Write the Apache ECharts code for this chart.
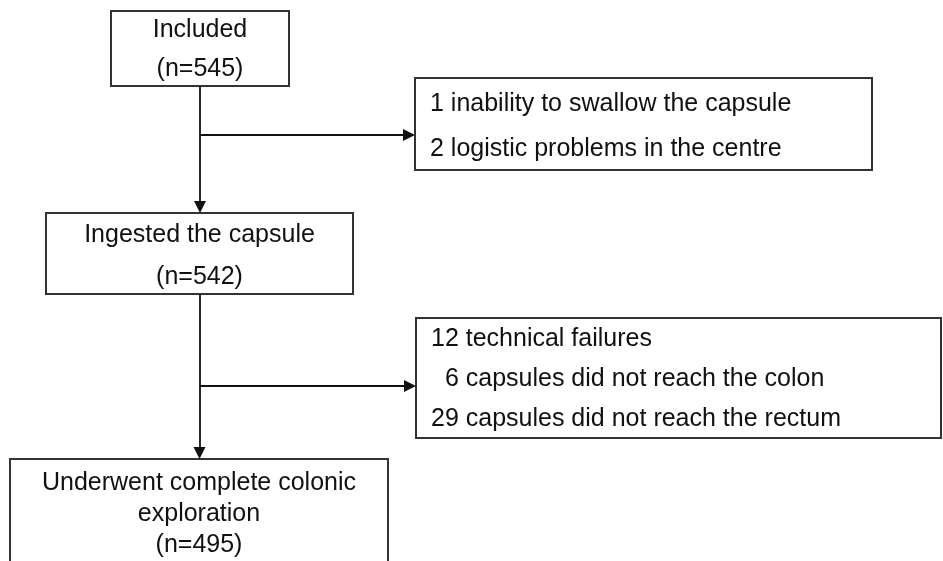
<!DOCTYPE html>
<html>
<head>
<meta charset="utf-8">
<script src="https://cdn.jsdelivr.net/npm/echarts@6/dist/echarts.min.js"></script>
<style>
  html, body { margin: 0; background: #fff; }
  #chart { width: 943px; height: 561px; }
</style>
</head>
<body>
<div id="chart"></div>
<script>
// flow stages and the patients lost between them
const stageLabels = ['Included', 'Ingested the capsule', 'Underwent complete colonic\nexploration'];
const stageCounts = [545, 542, 495];
const lossCounts = [[1, 2], [12, 6, 29]];
const lossReasons = [
  ['inability to swallow the capsule', 'logistic problems in the centre'],
  ['technical failures', 'capsules did not reach the colon', 'capsules did not reach the rectum']
];

// layout, in page units: [left, top, right, bottom, text centre y, line height]
const stageBoxes = [
  [111, 11, 289, 86, 49.5, 39],
  [46, 213, 353, 294, 256, 42],
  [10, 459, 388, 580, 514, 31]
];
const lossBoxes = [
  [415, 78, 872, 170, 127, 45],
  [416, 318, 941, 438, 379.5, 40]
];
const branchY = [135, 386];
const ARROW = 12;

const FONT = "'Liberation Sans', Arial, sans-serif";

const boxTexts = stageLabels.map((label, i) => `${label}\n(n=${stageCounts[i]})`);
lossCounts.forEach((counts, g) => {
  const width = Math.max(...counts.map((c) => String(c).length));
  const lines = counts.map((c, k) => {
    const pad = '  '.repeat(width - String(c).length);
    return `${pad}${c} ${lossReasons[g][k]}`;
  });
  boxTexts.push(lines.join('\n'));
});
const boxes = stageBoxes.concat(lossBoxes);
const leftAligned = boxes.map((b, i) => i >= stageBoxes.length);

function renderBox(params, api) {
  const i = params.dataIndex;
  const p0 = api.coord([api.value(0), api.value(1)]);
  const p1 = api.coord([api.value(2), api.value(3)]);
  const ty = api.coord([0, api.value(4)])[1];
  const left = leftAligned[i];
  return {
    type: 'group',
    children: [
      {
        type: 'rect',
        shape: { x: p0[0], y: p0[1], width: p1[0] - p0[0], height: p1[1] - p0[1] },
        style: { fill: '#fff', stroke: '#333', lineWidth: 2 }
      },
      {
        type: 'text',
        x: left ? p0[0] + 15 : (p0[0] + p1[0]) / 2,
        y: ty,
        style: {
          text: boxTexts[i],
          fill: '#111',
          font: `25px ${FONT}`,
          lineHeight: api.value(5),
          align: left ? 'left' : 'center',
          verticalAlign: 'middle'
        }
      }
    ]
  };
}

// connectors: stage to next stage, and a branch out to each loss box
// (the arrow head is centred on the end point, so stop half a head short)
const connectors = [];
for (let i = 0; i < stageBoxes.length - 1; i++) {
  const x = (stageBoxes[i][0] + stageBoxes[i][2]) / 2;
  connectors.push({ coords: [[x, stageBoxes[i][3]], [x, stageBoxes[i + 1][1] - ARROW / 2]] });
  connectors.push({ coords: [[x, branchY[i]], [lossBoxes[i][0] - ARROW / 2, branchY[i]]] });
}

const chart = echarts.init(document.getElementById('chart'));
chart.setOption({
  animation: false,
  grid: { left: 0, right: 0, top: 0, bottom: 0 },
  xAxis: { type: 'value', min: 0, max: 943, show: false },
  yAxis: { type: 'value', min: 0, max: 561, inverse: true, show: false },
  series: [
    {
      type: 'lines',
      coordinateSystem: 'cartesian2d',
      symbol: ['none', 'triangle'],
      symbolSize: [12, ARROW],
      lineStyle: { color: '#111', width: 1.8, opacity: 1 },
      itemStyle: { color: '#111' },
      silent: true,
      data: connectors
    },
    {
      type: 'custom',
      coordinateSystem: 'cartesian2d',
      silent: true,
      clip: false,
      renderItem: renderBox,
      data: boxes,
      z: 1
    }
  ]
});
</script>
</body>
</html>
